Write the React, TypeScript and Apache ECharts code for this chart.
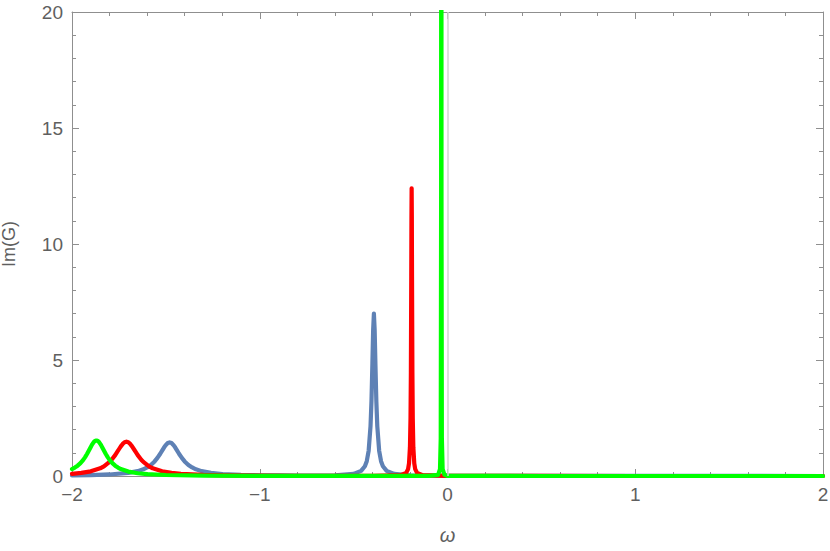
import React, { useEffect, useRef } from "react";
import * as echarts from "echarts";

const xTicks = [-2, -1, 0, 1, 2];
const yTicks = [0, 5, 10, 15, 20];

const blueData: [number, number][] = [
  [-2.0, 0.026], [-1.9, 0.039], [-1.8, 0.066], [-1.7, 0.133], [-1.65, 0.21], [-1.62, 0.29],
  [-1.6, 0.368], [-1.58, 0.477], [-1.56, 0.629], [-1.545, 0.779], [-1.53, 0.96], [-1.52, 1.093],
  [-1.51, 1.225], [-1.5, 1.34], [-1.49, 1.421], [-1.48, 1.45], [-1.47, 1.421], [-1.46, 1.34],
  [-1.45, 1.225], [-1.44, 1.093], [-1.43, 0.96], [-1.415, 0.779], [-1.4, 0.629], [-1.38, 0.477],
  [-1.36, 0.368], [-1.34, 0.29], [-1.31, 0.21], [-1.26, 0.133], [-1.2, 0.085], [-1.1, 0.048],
  [-1.0, 0.03], [-0.9, 0.025], [-0.8, 0.021], [-0.7, 0.022], [-0.6, 0.032], [-0.5, 0.092],
  [-0.46, 0.22], [-0.44, 0.42], [-0.43, 0.636], [-0.42, 1.087], [-0.41, 2.15], [-0.405, 3.22],
  [-0.4, 4.85], [-0.396, 6.3], [-0.392, 7.0], [-0.388, 6.3], [-0.384, 4.85], [-0.379, 3.22],
  [-0.374, 2.15], [-0.364, 1.087], [-0.354, 0.636], [-0.344, 0.42], [-0.324, 0.22], [-0.284, 0.09],
  [-0.2, 0.031], [-0.1, 0.016], [0, 0.008], [0.5, 0.003], [1.0, 0.002], [2.0, 0.001],
];

const redData: [number, number][] = [
  [-2.0, 0.093], [-1.95, 0.132], [-1.9, 0.2], [-1.85, 0.33], [-1.83, 0.416], [-1.8, 0.607],
  [-1.79, 0.692], [-1.77, 0.9], [-1.76, 1.025], [-1.75, 1.153], [-1.74, 1.276], [-1.73, 1.382],
  [-1.72, 1.454], [-1.71, 1.48], [-1.7, 1.454], [-1.69, 1.382], [-1.68, 1.276], [-1.67, 1.153],
  [-1.66, 1.025], [-1.65, 0.9], [-1.63, 0.692], [-1.62, 0.607], [-1.59, 0.416], [-1.57, 0.33],
  [-1.52, 0.2], [-1.47, 0.132], [-1.42, 0.093], [-1.3, 0.048], [-1.2, 0.031], [-1.0, 0.016],
  [-0.8, 0.01], [-0.6, 0.0067], [-0.4, 0.007], [-0.25, 0.036], [-0.22, 0.131], [-0.21, 0.3],
  [-0.205, 0.54], [-0.2, 1.24], [-0.197, 2.48], [-0.195, 4.46], [-0.193, 8.59], [-0.192, 11.16],
  [-0.191, 12.4], [-0.19, 11.16], [-0.189, 8.59], [-0.187, 4.46], [-0.185, 2.48], [-0.182, 1.24],
  [-0.177, 0.54], [-0.172, 0.3], [-0.162, 0.131], [-0.132, 0.036], [0, 0.006], [0.5, 0.002],
  [1.0, 0.001], [2.0, 0.0005],
];

const greenData: [number, number][] = [
  [-2.0, 0.298], [-1.985, 0.362], [-1.97, 0.445], [-1.955, 0.554], [-1.94, 0.697], [-1.93, 0.814],
  [-1.92, 0.95], [-1.91, 1.1], [-1.9, 1.254], [-1.895, 1.327], [-1.885, 1.45], [-1.878, 1.506],
  [-1.87, 1.53], [-1.862, 1.506], [-1.855, 1.45], [-1.845, 1.327], [-1.84, 1.254], [-1.83, 1.1],
  [-1.82, 0.95], [-1.81, 0.814], [-1.8, 0.697], [-1.785, 0.554], [-1.77, 0.445], [-1.755, 0.362],
  [-1.74, 0.298], [-1.7, 0.19], [-1.65, 0.12], [-1.6, 0.081], [-1.5, 0.044], [-1.3, 0.019],
  [-1.0, 0.0082], [-0.5, 0.0033], [-0.1, 0.005], [-0.05, 0.052], [-0.04, 0.3], [-0.036, 1.62],
  [-0.034, 12], [-0.033, 60], [-0.032, 12], [-0.03, 1.62], [-0.026, 0.3], [-0.016, 0.052],
  [0, 0.003], [0.5, 0.001], [2.0, 0.0003],
];

const FRAME = "#8f8f8f";
const LABEL = "#5f5f5f";
const FONT = "'Liberation Sans', Arial, sans-serif";

const fmt = (v: number) => String(v).replace("-", "\u2212");

export default function App() {
  const ref = useRef<HTMLDivElement>(null);
  useEffect(() => {
    if (!ref.current) return;
    const chart = echarts.init(ref.current, null, { renderer: "svg" });
    const xBase = {
      type: "value" as const,
      min: xTicks[0],
      max: xTicks[xTicks.length - 1],
      interval: 1,
      splitLine: { show: false },
      axisLine: { show: true, onZero: false, lineStyle: { color: FRAME, width: 1 } },
      axisTick: { show: true, inside: true, length: 7, lineStyle: { color: FRAME, width: 1 } },
      minorTick: { show: true, splitNumber: 5, length: 4, lineStyle: { color: FRAME, width: 1 } },
    };
    const yBase = {
      type: "value" as const,
      min: yTicks[0],
      max: yTicks[yTicks.length - 1],
      interval: 5,
      splitLine: { show: false },
      axisLine: { show: true, onZero: false, lineStyle: { color: FRAME, width: 1 } },
      axisTick: { show: true, inside: true, length: 7, lineStyle: { color: FRAME, width: 1 } },
      minorTick: { show: true, splitNumber: 5, length: 4, lineStyle: { color: FRAME, width: 1 } },
    };
    const lineSeries = (name: string, data: [number, number][], color: string) => ({
      name,
      type: "line" as const,
      data,
      showSymbol: false,
      symbol: "none",
      clip: true,
      lineStyle: { color, width: 4.2, join: "round", cap: "round" },
      emphasis: { disabled: true },
    });
    chart.setOption({
      animation: false,
      grid: { left: 72, right: 7, top: 12, bottom: 75, containLabel: false, outerBoundsMode: "none" },
      xAxis: [
        {
          ...xBase,
          position: "bottom",
          name: "\u03c9",
          nameLocation: "middle",
          nameGap: 49,
          nameTextStyle: { color: LABEL, fontSize: 20, fontStyle: "italic", fontFamily: FONT },
          axisLabel: { show: true, color: LABEL, fontSize: 19, fontFamily: FONT, margin: 9, formatter: fmt },
        },
        { ...xBase, position: "top", axisLabel: { show: false } },
      ],
      yAxis: [
        {
          ...yBase,
          position: "left",
          name: "Im(G)",
          nameLocation: "middle",
          nameGap: 54,
          nameRotate: 90,
          nameTextStyle: { color: LABEL, fontSize: 18, fontFamily: FONT },
          axisLabel: { show: true, color: LABEL, fontSize: 19, fontFamily: FONT, margin: 9, formatter: fmt },
        },
        { ...yBase, position: "right", axisLabel: { show: false } },
      ],
      series: [
        {
          ...lineSeries("blue", blueData, "#5e81b5"),
          markLine: {
            silent: true,
            symbol: "none",
            label: { show: false },
            lineStyle: { color: "#d3d3d3", width: 1.5, type: "solid" },
            data: [{ xAxis: 0 }],
          },
        },
        lineSeries("red", redData, "#ff0000"),
        lineSeries("green", greenData, "#00ff00"),
      ],
    });
    return () => chart.dispose();
  }, []);
  return (
    <div
      ref={ref}
      style={{ position: "fixed", left: 0, top: 0, width: 830, height: 551, background: "#fff" }}
    />
  );
}
